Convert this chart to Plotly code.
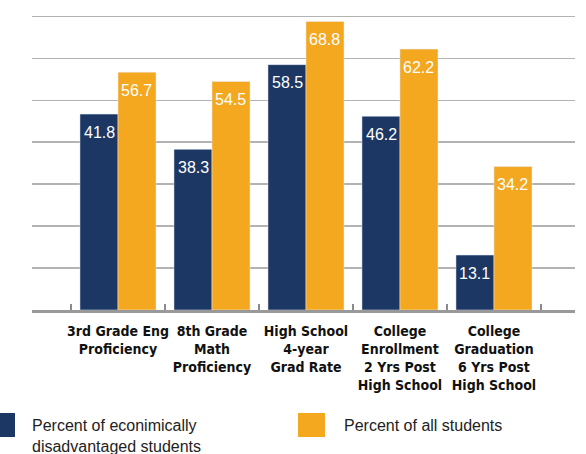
import plotly.graph_objects as go

categories = [
    "3rd Grade Eng<br>Proficiency",
    "8th Grade<br>Math<br>Proficiency",
    "High School<br>4-year<br>Grad Rate",
    "College<br>Enrollment<br>2 Yrs Post<br>High School",
    "College<br>Graduation<br>6 Yrs Post<br>High School",
]
# bar heights as drawn in the picture (first dark bar is drawn taller than its label)
disadv_heights = [46.7, 38.3, 58.5, 46.2, 13.1]
disadv_labels = ["41.8", "38.3", "58.5", "46.2", "13.1"]
all_values = [56.7, 54.5, 68.8, 62.2, 34.2]
all_labels = ["56.7", "54.5", "68.8", "62.2", "34.2"]
series_names = ["Percent of econimically<br>disadvantaged students", "Percent of all students"]

NAVY = "#1C3764"
ORANGE = "#F3A820"

fig = go.Figure()
fig.add_trace(go.Bar(x=categories, y=disadv_heights, marker_color=NAVY, name=series_names[0]))
fig.add_trace(go.Bar(x=categories, y=all_values, marker_color=ORANGE, name=series_names[1]))

annotations = []
off = 0.202
for i in range(len(categories)):
    for dx, h, lab in ((-off, disadv_heights[i], disadv_labels[i]), (off, all_values[i], all_labels[i])):
        annotations.append(dict(
            x=i + dx, y=h, xref="x", yref="y", text=lab, showarrow=False,
            yanchor="middle", yshift=-18,
            font=dict(family="Liberation Sans, Arial, sans-serif", size=16, color="white"),
        ))

# legend texts
annotations.append(dict(
    x=-0.0037, y=-0.417, xref="paper", yref="paper", xanchor="left", yanchor="middle",
    text=series_names[0], showarrow=False, align="left",
    font=dict(family="Liberation Sans, Arial, sans-serif", size=16, color="#222"),
))
annotations.append(dict(
    x=0.5709, y=-0.381, xref="paper", yref="paper", xanchor="left", yanchor="middle",
    text=series_names[1], showarrow=False, align="left",
    font=dict(family="Liberation Sans, Arial, sans-serif", size=16, color="#222"),
))

shapes = [
    dict(type="rect", xref="paper", yref="paper", x0=-0.081, x1=-0.0313, y0=-0.4205, y1=-0.341,
         fillcolor=NAVY, line=dict(width=0)),
    dict(type="rect", xref="paper", yref="paper", x0=0.4899, x1=0.5396, y0=-0.4205, y1=-0.341,
         fillcolor=ORANGE, line=dict(width=0)),
]

fig.update_layout(
    width=586, height=454,
    margin=dict(l=32, r=11, t=8, b=144),
    paper_bgcolor="white", plot_bgcolor="white",
    barmode="group", bargap=0.191, bargroupgap=0,
    showlegend=False,
    annotations=annotations,
    shapes=shapes,
    xaxis=dict(
        type="category", range=[-0.915, 4.862], automargin=False,
        showline=True, linecolor="#999999", linewidth=3,
        ticks="inside", tickson="boundaries", ticklen=6, tickwidth=2, tickcolor="#8a8a8a",
        showgrid=False, tickangle=0, ticklabelstandoff=6,
        tickfont=dict(family="DejaVu Sans Condensed, Liberation Sans Narrow, Arial Narrow, sans-serif",
                      size=14, color="#111111", weight="bold"),
    ),
    yaxis=dict(
        range=[0, 72], dtick=10, showticklabels=False, ticks="", automargin=False,
        showgrid=True, gridcolor="#b3b3b3", gridwidth=1.5, zeroline=False,
    ),
)

fig.write_html(
    "out.html",
    config={"displayModeBar": False, "staticPlot": True},
    post_script="document.body.style.margin='0px';document.body.style.overflow='hidden';",
)
